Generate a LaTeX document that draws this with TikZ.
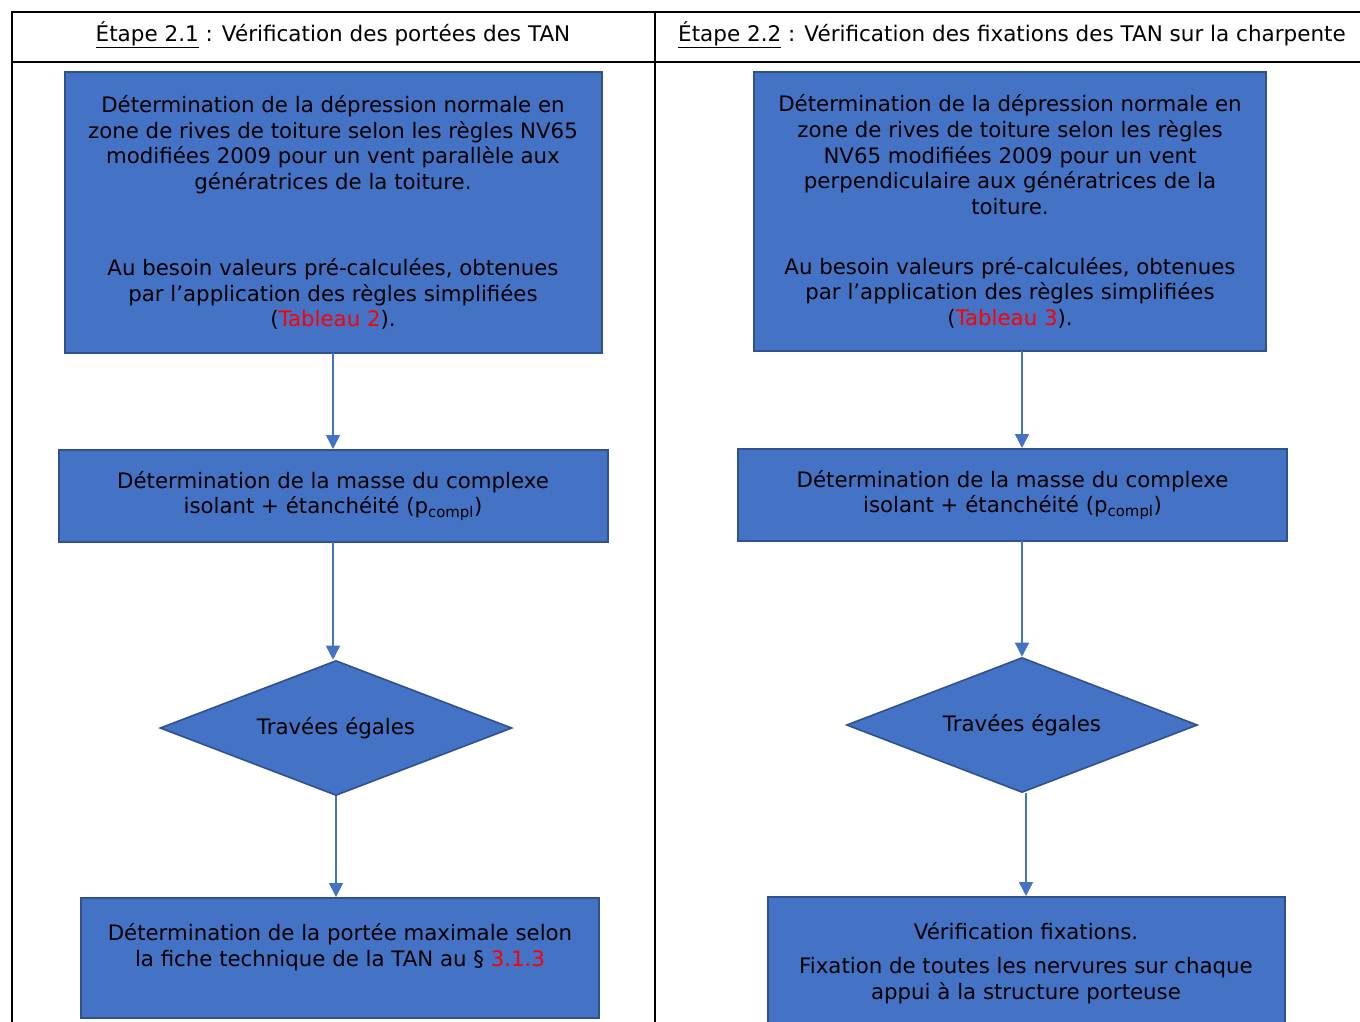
\documentclass[tikz,border=0pt]{standalone}
\usepackage{fontspec}
\setmainfont{DejaVu Sans}
\usetikzlibrary{shapes.geometric,arrows.meta}
\definecolor{boxblue}{RGB}{68,114,196}
\definecolor{boxedge}{RGB}{47,82,143}
\definecolor{linkred}{RGB}{255,0,0}
\def\flowfont{\fontsize{21.3}{25.7}\selectfont}
\def\titlefont{\fontsize{21.5}{25.7}\selectfont}

\begin{document}
\begin{tikzpicture}[x=1pt, y=-1pt, line cap=rect,
  etape/.style={draw=boxedge, fill=boxblue, line width=2pt, align=center, font=\flowfont, inner sep=0pt},
  test/.style={diamond, aspect=2.6, draw=boxedge, fill=boxblue, line width=1.6pt, font=\flowfont, inner sep=0pt},
  fleche/.style={boxblue, line width=1.5pt, -{Triangle[width=14pt,length=14pt]}}]

 \useasboundingbox (0,0) rectangle (1360,1021);
 \clip (0,0) rectangle (1360,1021);

 % tableau
 \draw[line width=2pt] (12,1040) -- (12,12) -- (1370,12);
 \draw[line width=2pt] (12,62) -- (1370,62);
 \draw[line width=2pt] (655,12) -- (655,1040);

 \node[font=\titlefont] (titre1) at (333,35) {\underline{Étape 2.1} : Vérification des portées des TAN};
 \node[font=\titlefont] (titre2) at (1012,35) {\underline{Étape 2.2} : Vérification des fixations des TAN sur la charpente};

 % colonne gauche
 \node[etape, minimum width=537pt, minimum height=281pt] (g1) at (333,212.5)
   {Détermination de la dépression normale en\\ zone de rives de toiture selon les règles NV65\\ modifiées 2009 pour un vent parallèle aux\\ génératrices de la toiture.\\[60pt] Au besoin valeurs pré-calculées, obtenues\\ par l’application des règles simplifiées\\ (\textcolor{linkred}{Tableau 2}).};
 \node[etape, minimum width=549pt, minimum height=92pt] (g2) at (333,496)
   {Détermination de la masse du complexe\\ isolant + étanchéité (p\textsubscript{compl})};
 \node[test, minimum width=352pt, minimum height=135pt] (g3) at (336,728) {Travées égales};
 \node[etape, minimum width=518pt, minimum height=120pt] (g4) at (340,958)
   {Détermination de la portée maximale selon\\ la fiche technique de la TAN au § \textcolor{linkred}{3.1.3}\\ ~};

 % colonne droite
 \node[etape, minimum width=512pt, minimum height=279pt] (d1) at (1010,211.5)
   {Détermination de la dépression normale en\\ zone de rives de toiture selon les règles\\ NV65 modifiées 2009 pour un vent\\ perpendiculaire aux génératrices de la\\ toiture.\\[34pt] Au besoin valeurs pré-calculées, obtenues\\ par l’application des règles simplifiées\\ (\textcolor{linkred}{Tableau 3}).};
 \node[etape, minimum width=549pt, minimum height=92pt] (d2) at (1012.5,495)
   {Détermination de la masse du complexe\\ isolant + étanchéité (p\textsubscript{compl})};
 \node[test, minimum width=351pt, minimum height=135pt] (d3) at (1022,725) {Travées égales};
 \node[etape, minimum width=517pt, minimum height=132pt] (d4) at (1026,963)
   {Vérification fixations.\\[8pt] Fixation de toutes les nervures sur chaque\\ appui à la structure porteuse};

 \draw[fleche] (g1.south) -- (g1.south |- g2.north);
 \draw[fleche] (g2.south) -- (g2.south |- g3.north);
 \draw[fleche] (g3.south) -- (g3.south |- g4.north);
 \draw[fleche] (d1.south -| d3.north) -- (d2.north -| d3.north);
 \draw[fleche] (d2.south -| d3.north) -- (d3.north);
 \draw[fleche] (d3.south -| d4.north) -- (d4.north);

\end{tikzpicture}
\end{document}
